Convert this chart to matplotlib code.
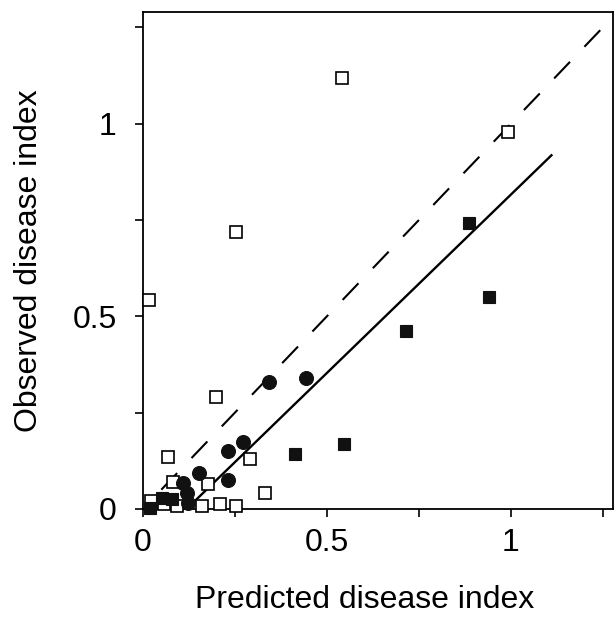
import matplotlib
matplotlib.use("Agg")
import matplotlib.pyplot as plt
import numpy as np

plt.rcParams['font.family'] = ['Liberation Sans', 'DejaVu Sans']

# Open squares
open_x = [0.016, 0.253, 0.541, 0.992, 0.198, 0.068, 0.291, 0.332, 0.177, 0.082,
          0.160, 0.209, 0.253, 0.092, 0.057, 0.022]
open_y = [0.543, 0.719, 1.119, 0.977, 0.291, 0.135, 0.130, 0.042, 0.064, 0.070,
          0.008, 0.013, 0.008, 0.008, 0.013, 0.021]

# Filled squares
fsq_x = [0.886, 0.940, 0.715, 0.546, 0.413, 0.019, 0.052, 0.079]
fsq_y = [0.743, 0.551, 0.462, 0.169, 0.143, 0.002, 0.029, 0.026]

# Filled circles
circ_x = [0.342, 0.443, 0.272, 0.231, 0.231, 0.152, 0.109, 0.120, 0.122]
circ_y = [0.330, 0.340, 0.174, 0.151, 0.075, 0.094, 0.068, 0.042, 0.016]

# Lines
one_to_one_x = [0.05, 1.26]
reg_slope = 0.926
reg_intercept = -0.110
reg_x = [0.119, 1.11]

x_ticks = [0, 0.25, 0.5, 0.75, 1.0, 1.25]
x_ticklabels = ['0', '', '0.5', '', '1', '']
y_ticks = [0, 0.25, 0.5, 0.75, 1.0, 1.25]
y_ticklabels = ['0', '', '0.5', '', '1', '']

fig = plt.figure(figsize=(6.16, 6.26), dpi=100)
ax = fig.add_axes([0.232, 0.187, 0.763, 0.794])

ax.plot(one_to_one_x, one_to_one_x, color='black', lw=1.5, dashes=(11, 10), zorder=2)
reg_y = [reg_slope * v + reg_intercept for v in reg_x]
ax.plot(reg_x, reg_y, color='black', lw=1.7, zorder=2)

ax.plot(open_x, open_y, 's', ms=8.2, mfc='white', mec='black', mew=1.2,
        ls='none', clip_on=False, zorder=3)
ax.plot(fsq_x, fsq_y, 's', ms=9.2, mfc='#111111', mec='#111111', mew=0.8,
        ls='none', clip_on=False, zorder=4)
ax.plot(circ_x, circ_y, 'o', ms=10.0, mfc='#111111', mec='#111111', mew=0.8,
        ls='none', clip_on=False, zorder=4)

ax.set_xlim(0, 1.277)
ax.set_ylim(0, 1.29)
ax.set_xticks(x_ticks)
ax.set_xticklabels(x_ticklabels)
ax.set_yticks(y_ticks)
ax.set_yticklabels(y_ticklabels)
ax.tick_params(direction='out', length=6, width=1.2, labelsize=23, pad=8)
ax.tick_params(axis='y', pad=13)
for s in ax.spines.values():
    s.set_linewidth(1.3)

ax.set_xlabel('Predicted disease index', fontsize=23, labelpad=19)
ax.xaxis.label.set_x(0.472)
ax.set_ylabel('Observed disease index', fontsize=23, labelpad=20)

fig.savefig('out.png', dpi=100)
